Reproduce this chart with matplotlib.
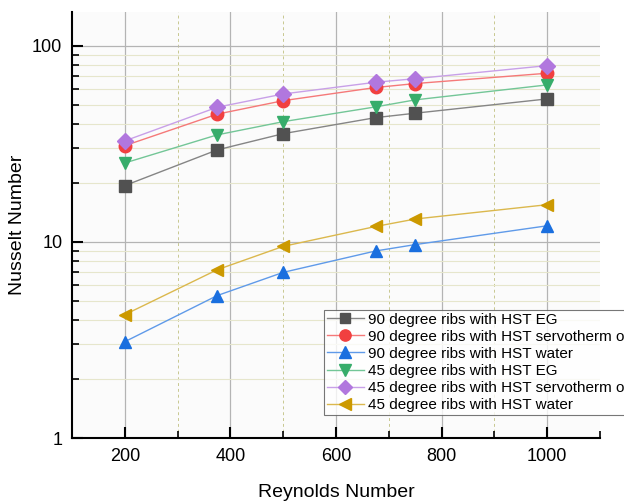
import numpy as np
import matplotlib.pyplot as plt
from matplotlib.colors import to_rgb
from matplotlib.ticker import MultipleLocator, LogLocator, NullFormatter, FixedLocator

plt.rcParams['font.family'] = ['Liberation Sans', 'DejaVu Sans']

re_num = [200, 375, 500, 675, 750, 1000]
nu_90_eg = [19.4, 29.5, 35.7, 43.1, 45.4, 53.7]
nu_90_oil = [31.0, 44.9, 52.6, 61.4, 64.3, 72.6]
nu_90_water = [3.1, 5.33, 7.0, 9.0, 9.7, 12.1]
nu_45_eg = [25.3, 35.2, 41.1, 48.9, 53.1, 63.3]
nu_45_oil = [32.8, 48.7, 56.9, 65.3, 68.1, 79.4]
nu_45_water = [4.26, 7.22, 9.5, 12.0, 13.1, 15.5]

labels = ['90 degree ribs with HST EG',
          '90 degree ribs with HST servotherm oil',
          '90 degree ribs with HST water',
          '45 degree ribs with HST EG',
          '45 degree ribs with HST servotherm oil',
          '45 degree ribs with HST water']
series = [nu_90_eg, nu_90_oil, nu_90_water, nu_45_eg, nu_45_oil, nu_45_water]
colors = ['#515151', '#F14040', '#1A6FDF', '#37AD6B', '#B177DE', '#CC9900']
markers = ['s', 'o', '^', 'v', 'D', '<']
msizes = [8, 9, 9, 9, 8, 9]


def lighten(c, f=0.3):
    r, g, b = to_rgb(c)
    return (r + (1 - r) * f, g + (1 - g) * f, b + (1 - b) * f)


fig = plt.figure(figsize=(6.24, 5.01), dpi=100)
ax = fig.add_axes([0.1154, 0.1257, 0.8462, 0.8503])
ax.set_facecolor('#fbfbfb')

for y, lab, c, m, ms in zip(series, labels, colors, markers, msizes):
    ax.plot(re_num, y, color=lighten(c), lw=1.0, marker=m, ms=ms,
            markerfacecolor=c, markeredgecolor=c, label=lab, zorder=3)

ax.set_yscale('log')
ax.set_xlim(100, 1100)
ax.set_ylim(1, 149)

ax.xaxis.set_major_locator(MultipleLocator(200))
ax.xaxis.set_minor_locator(FixedLocator([300, 500, 700, 900, 1100]))
ax.yaxis.set_major_locator(LogLocator(base=10))
ax.yaxis.set_minor_locator(LogLocator(base=10, subs=np.arange(2, 10)))
ax.yaxis.set_minor_formatter(NullFormatter())
ax.yaxis.set_major_formatter(plt.FuncFormatter(lambda v, p: f'{v:g}'))

ax.grid(which='major', color='#b4b4b4', lw=0.9, zorder=0)
ax.grid(which='minor', axis='x', color='#c8c890', lw=0.7, ls=(0, (3, 3)), zorder=0)
ax.grid(which='minor', axis='y', color='#e6e6cc', lw=0.8, zorder=0)
ax.set_axisbelow(True)

for s in ['top', 'right']:
    ax.spines[s].set_visible(False)
for s in ['left', 'bottom']:
    ax.spines[s].set_linewidth(1.5)
    ax.spines[s].set_color('black')

ax.tick_params(which='major', direction='in', length=8, width=1.5, labelsize=13, pad=7)
ax.tick_params(which='minor', direction='in', length=5, width=1.2)

ax.set_xlabel('Reynolds Number', fontsize=14, labelpad=14)
ax.set_ylabel('Nusselt Number', fontsize=14, labelpad=4)

leg = ax.legend(loc='lower left', bbox_to_anchor=(0.477, 0.054), fontsize=11,
                frameon=True, fancybox=False, edgecolor='#555555',
                handlelength=2.4, handletextpad=0.3, labelspacing=0.2,
                borderpad=0.2, borderaxespad=0, markerscale=0.9)
leg.get_frame().set_linewidth(0.8)
leg.set_clip_on(False)

fig.savefig('out.png', dpi=100)
